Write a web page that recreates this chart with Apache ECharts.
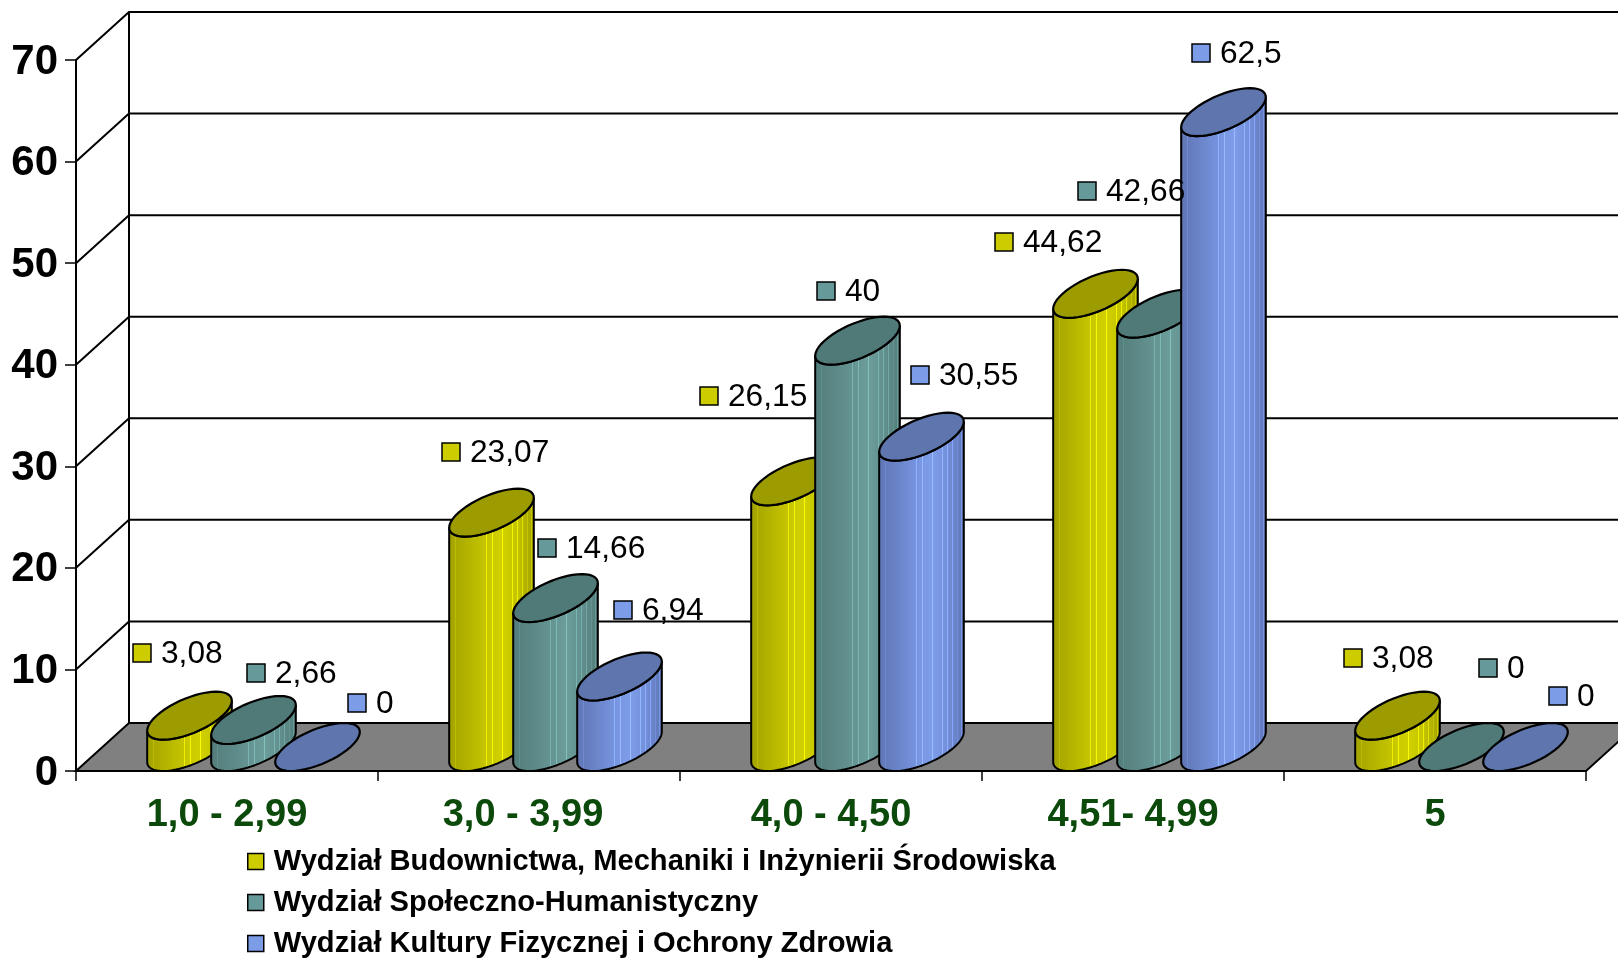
<!DOCTYPE html>
<html>
<head>
<meta charset="utf-8">
<title>Wydziały</title>
<style>
  html, body { margin: 0; padding: 0; background: #fff; }
  #chart { width: 1618px; height: 958px; }
</style>
</head>
<body>
<div id="chart"></div>
<script src="https://cdn.jsdelivr.net/npm/echarts@6/dist/echarts.min.js"></script>
<script>
const categories = ['1,0 - 2,99', '3,0 - 3,99', '4,0 - 4,50', '4,51- 4,99', '5']
const seriesNames = [
  'Wydział Budownictwa, Mechaniki i Inżynierii Środowiska',
  'Wydział Społeczno-Humanistyczny',
  'Wydział Kultury Fizycznej i Ochrony Zdrowia'
]
const budownictwo = [3.08, 23.07, 26.15, 44.62, 3.08]
const spoleczny = [2.66, 14.66, 40, 42.66, 0]
const kultura = [0, 6.94, 30.55, 62.5, 0]
const yTicks = [0, 10, 20, 30, 40, 50, 60, 70]

// hand placed data labels: [left of key, middle], per series then per category
const labelSpots = [
  [[133, 653], [442, 452], [700, 396], [995, 242], [1344, 658]],
  [[247, 673], [538, 548], [817, 291], [1078, 191], [1479, 668]],
  [[348, 703], [614, 610], [911, 375], [1192, 53], [1549, 696]]
]

const DEPTH_X = 53
const DEPTH_Y = 48
const STEP = 64
const HALF_W = 33

const palette = [
  { key: '#cccc00', cap: '#9c9c00', ramp: ['#a0a000', '#b4b400', '#c2c200', '#d2d200', '#c4c400', '#a0a000'] },
  { key: '#669999', cap: '#507a78', ramp: ['#527c7a', '#5a8684', '#62908e', '#6c9f9d', '#62908e', '#527c7a'] },
  { key: '#7c9ce8', cap: '#5f75ae', ramp: ['#5f74b4', '#6a83c6', '#7490da', '#7f9eec', '#7490da', '#5f74b4'] }
]
// light vertical streaks on the cylinder, as share of its width
const streaks = [0.09, 0.44, 0.51, 0.63, 0.74, 0.8, 0.86, 0.91, 0.96]

function bodyFill(c) {
  const stops = [{ offset: 0, color: c.ramp[0] }]
  streaks.forEach(s => {
    const base = echarts.color.lerp(s, c.ramp)
    const lit = echarts.color.lift(base, -0.22)
    stops.push({ offset: s - 0.006, color: base })
    stops.push({ offset: s - 0.005, color: lit })
    stops.push({ offset: s + 0.005, color: lit })
    stops.push({ offset: s + 0.006, color: base })
  })
  stops.push({ offset: 1, color: c.ramp[c.ramp.length - 1] })
  return new echarts.graphic.LinearGradient(0, 0, 1, 0, stops)
}

function ringPoints(cx, cy, from, to) {
  const pts = []
  const n = 48
  for (let i = 0; i <= n; i++) {
    const t = from + (to - from) * i / n
    pts.push([cx + HALF_W * Math.cos(t) + DEPTH_X / 2 * Math.sin(t), cy - DEPTH_Y / 2 * Math.sin(t)])
  }
  return pts
}

function cylinderItem(si) {
  return function (params, api) {
    const cat = api.value(0)
    const val = api.value(1)
    const p = api.coord([cat, val])
    const b = api.coord([cat, 0])
    const cx = p[0] + (si - 1) * STEP + DEPTH_X / 2
    const topY = p[1] - DEPTH_Y / 2
    const baseY = b[1] - DEPTH_Y / 2
    // angle where the projected circle has its leftmost / rightmost point
    const t0 = Math.atan2(DEPTH_X / 2, HALF_W)
    const c = palette[si]
    const children = []
    if (val > 0) {
      // from the right extreme round the front of the base to the left extreme
      const front = ringPoints(cx, baseY, t0, t0 - Math.PI)
      const back = ringPoints(cx, topY, t0 - Math.PI, t0)
      children.push({
        type: 'polygon',
        shape: { points: front.concat(back) },
        style: { fill: bodyFill(c), stroke: '#000', lineWidth: 2 }
      })
    }
    children.push({
      type: 'polygon',
      shape: { points: ringPoints(cx, topY, 0, Math.PI * 2) },
      style: { fill: c.cap, stroke: '#000', lineWidth: 2.2 }
    })
    return { type: 'group', silent: true, children }
  }
}

function wallItem(params, api) {
  const cs = params.coordSys
  const right = cs.x + cs.width
  const front = api.coord([0, 0])[1]
  const children = [{
    type: 'polygon',
    shape: { points: [[cs.x, front], [right, front], [right + DEPTH_X, front - DEPTH_Y], [cs.x + DEPTH_X, front - DEPTH_Y]] },
    style: { fill: '#808080', stroke: '#000', lineWidth: 2 }
  }]
  children.push({
    type: 'line',
    shape: { x1: cs.x + DEPTH_X, y1: cs.y - DEPTH_Y, x2: cs.x + DEPTH_X, y2: front - DEPTH_Y },
    style: { stroke: '#000', lineWidth: 2 }
  })
  yTicks.forEach(v => {
    const y = api.coord([0, v])[1]
    if (v > 0) {
      children.push({
        type: 'polyline',
        shape: { points: [[cs.x, y], [cs.x + DEPTH_X, y - DEPTH_Y], [right + DEPTH_X, y - DEPTH_Y]] },
        style: { stroke: '#000', lineWidth: 2, fill: 'none' }
      })
    }
  })
  return { type: 'group', silent: true, children }
}

function labelItem(params, api) {
  const si = api.value(0)
  const cat = api.value(1)
  const spot = labelSpots[si][cat]
  const text = String(api.value(2)).replace('.', ',')
  return {
    type: 'group',
    silent: true,
    children: [
      {
        type: 'rect',
        shape: { x: spot[0], y: spot[1] - 9, width: 18, height: 18 },
        style: { fill: palette[si].key, stroke: '#000', lineWidth: 1.5 }
      },
      {
        type: 'text',
        x: spot[0] + 28,
        y: spot[1] + 1.5,
        style: { text, fill: '#000', font: '31.7px "Liberation Sans"', align: 'left', verticalAlign: 'middle' }
      }
    ]
  }
}

const allValues = [budownictwo, spoleczny, kultura]
const labelData = []
allValues.forEach((vals, si) => vals.forEach((v, ci) => labelData.push([si, ci, v])))

const chart = echarts.init(document.getElementById('chart'), null, { renderer: 'canvas' })
chart.setOption({
  animation: false,
  backgroundColor: '#fff',
  grid: { left: 76, right: 32, top: 60, bottom: 187 },
  xAxis: {
    type: 'category',
    // the second label sits a little left of its band in the original
    data: categories.map((c, i) => (i === 1 ? { value: c, textStyle: { padding: [0, 12, 0, 0] } } : c)),
    boundaryGap: true,
    z: 5,
    axisLine: { lineStyle: { color: '#000', width: 2 } },
    axisTick: { show: true, length: 10, alignWithLabel: false, lineStyle: { color: '#000', width: 1.5 } },
    axisLabel: {
      interval: 0,
      margin: 26,
      fontFamily: 'Liberation Sans',
      fontSize: 38,
      fontWeight: 'bold',
      color: '#0b4a0b'
    }
  },
  yAxis: {
    type: 'value',
    min: 0,
    max: 70,
    interval: 10,
    z: 5,
    splitLine: { show: false },
    axisLine: { show: true, lineStyle: { color: '#000', width: 2 } },
    axisTick: { show: true, length: 11, lineStyle: { color: '#000', width: 1.5 } },
    axisLabel: {
      margin: 18,
      // small top-aligned line box, puts the digits 2px under the tick
      verticalAlign: 'top',
      lineHeight: 4,
      fontFamily: 'Liberation Sans',
      fontSize: 42,
      fontWeight: 'bold',
      color: '#000'
    }
  },
  legend: {
    orient: 'vertical',
    left: 247,
    top: 845,
    height: 130,
    padding: 0,
    itemWidth: 16,
    itemHeight: 16,
    itemGap: 8,
    selectedMode: false,
    textStyle: {
      fontFamily: 'Liberation Sans',
      fontSize: 29.1,
      fontWeight: 'bold',
      color: '#000',
      lineHeight: 33,
      padding: [0, 0, 0, 5]
    },
    data: seriesNames.map((name, i) => ({
      name,
      icon: 'rect',
      itemStyle: { color: palette[i].key, borderColor: '#000', borderWidth: 1.5 }
    }))
  },
  series: [
    {
      type: 'custom',
      name: 'walls',
      clip: false,
      z: 1,
      coordinateSystem: 'cartesian2d',
      renderItem: wallItem,
      data: [[0, 0]]
    },
    ...allValues.map((vals, si) => ({
      type: 'custom',
      name: seriesNames[si],
      clip: false,
      z: 2 + si,
      coordinateSystem: 'cartesian2d',
      itemStyle: { color: palette[si].key },
      renderItem: cylinderItem(si),
      data: vals.map((v, ci) => [ci, v])
    })),
    {
      type: 'custom',
      name: 'labels',
      clip: false,
      z: 10,
      coordinateSystem: 'cartesian2d',
      renderItem: labelItem,
      encode: { x: 1, y: 2 },
      data: labelData
    }
  ]
})
</script>
</body>
</html>
